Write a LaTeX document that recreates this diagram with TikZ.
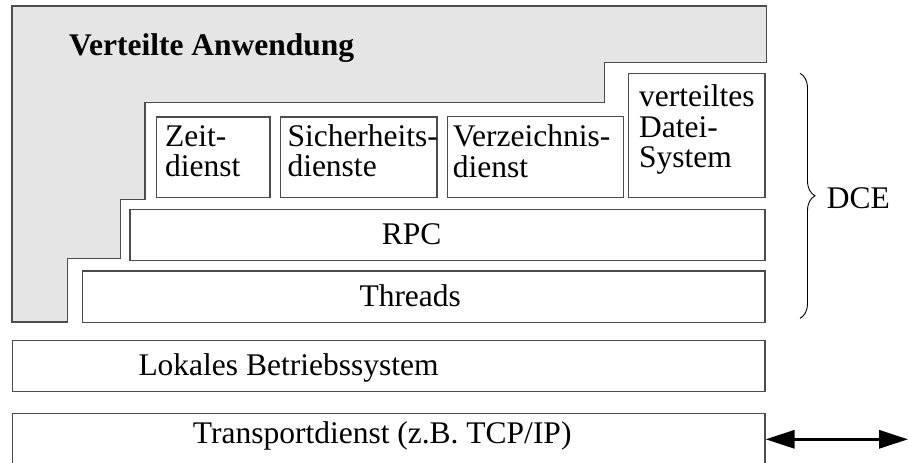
\documentclass[tikz,border=0pt]{standalone}
\usepackage{fontspec}
\setmainfont{Liberation Serif}
\usetikzlibrary{arrows.meta,decorations.pathreplacing}
\begin{document}
\begin{tikzpicture}[x=1pt,y=-1pt,
  layer/.style={draw=black!70,line width=1.3pt,fill=white,inner sep=0pt,anchor=north west},
  txt/.style={inner sep=0pt,anchor=base west,align=left,font=\fontsize{31.5}{30.5}\selectfont},
  bigtip/.tip={Triangle[length=29pt,width=18pt]},
]
\useasboundingbox (0,0) rectangle (908,463);
% gray application region
\draw[draw=black!70,line width=1.3pt,fill=black!10]
  (12,6) -- (766.7,6) -- (766.7,62.7) -- (604.7,62.7) -- (604.7,102.3)
  -- (145,102.3) -- (145,199.3) -- (120.7,199.3) -- (120.7,258.3)
  -- (67.3,258.3) -- (67.3,322) -- (12,322) -- cycle;
\node[txt,font=\fontsize{31.5}{30.5}\selectfont\bfseries] (app) at (69,55) {Verteilte Anwendung};
% service boxes
\node[layer,minimum width=113.6pt,minimum height=80.7pt] (zeitbox) at (155.7,116.3) {};
\node[layer,minimum width=156.3pt,minimum height=80.7pt] (sichbox) at (280,116.3) {};
\node[layer,minimum width=176pt,minimum height=81pt] (verzbox) at (446.7,116) {};
\node[layer,minimum width=136.6pt,minimum height=124.3pt] (dfsbox) at (627.7,72.7) {};
\node[layer,minimum width=635pt,minimum height=51pt] (rpcbox) at (129.3,209) {};
\node[layer,minimum width=682.6pt,minimum height=51.4pt] (thrbox) at (81.7,270.3) {};
\node[layer,minimum width=752.3pt,minimum height=51pt] (osbox) at (12,339.5) {};
\node[layer,minimum width=752.3pt,minimum height=52pt] (trbox) at (12,412.5) {};
% texts (multi-line nodes: base = last line)
\node[txt] (zeit) at (165,176.7) {Zeit-\\dienst};
\node[txt] (sich) at (287.3,176.7) {Sicherheits-\\dienste};
\node[txt] (verz) at (452.7,177) {Verzeichnis-\\dienst};
\node[txt] (dfs) at (639,167.7) {verteiltes\\Datei-\\System};
\node[txt] (rpc) at (381.7,244) {RPC};
\node[txt] (thr) at (359.3,306.3) {Threads};
\node[txt] (os) at (138.3,375) {Lokales Betriebssystem};
\node[txt] (tr) at (192.7,443.3) {Transportdienst (z.B. TCP/IP)};
% DCE brace
\coordinate (bt) at (800,73.3);
\coordinate (bb) at (800,318.3);
\draw[line width=0.9pt,decorate,decoration={brace,amplitude=15pt}] (bt) -- (bb);
\node[txt] (dce) at (826.7,208.3) {DCE};
% network arrow
\coordinate (ar) at (908,439.3);
\draw[line width=3.2pt,bigtip-bigtip] (trbox.east |- ar) -- (ar);
\end{tikzpicture}
\end{document}
